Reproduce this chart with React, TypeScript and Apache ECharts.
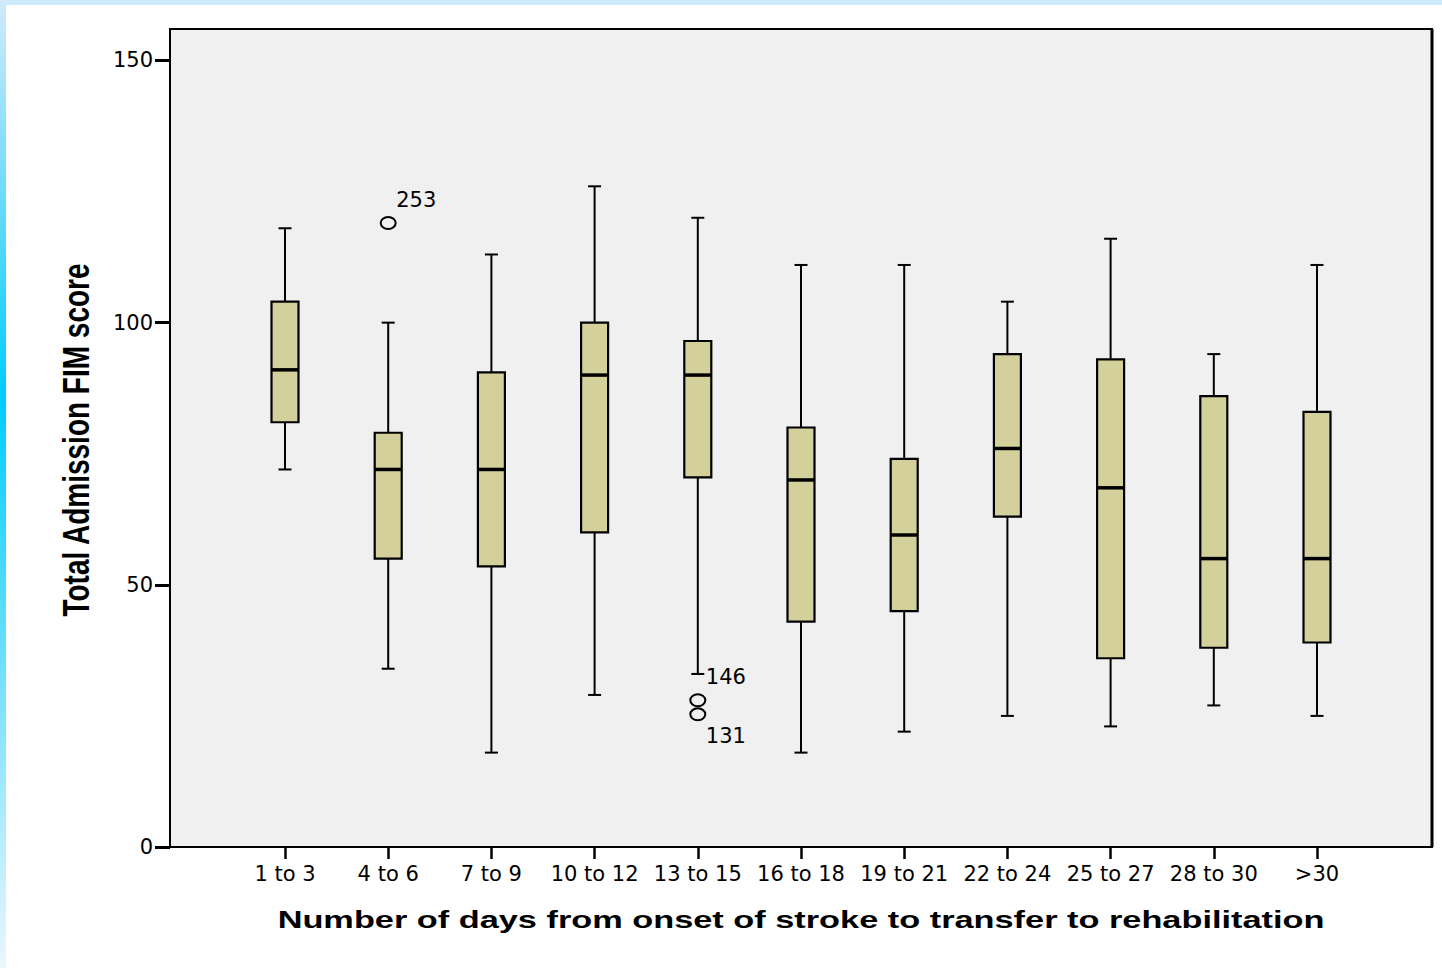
import React, { useEffect, useRef } from "react";
import * as echarts from "echarts";

const categories = ["1 to 3", "4 to 6", "7 to 9", "10 to 12", "13 to 15", "16 to 18", "19 to 21", "22 to 24", "25 to 27", "28 to 30", ">30"];
const whiskerLow = [72, 34, 18, 29, 33, 18, 22, 25, 23, 27, 25];
const quartile1 = [81, 55, 53.5, 60, 70.5, 43, 45, 63, 36, 38, 39];
const median = [91, 72, 72, 90, 90, 70, 59.5, 76, 68.5, 55, 55];
const quartile3 = [104, 79, 90.5, 100, 96.5, 80, 74, 94, 93, 86, 83];
const whiskerHigh = [118, 100, 113, 126, 120, 111, 111, 104, 116, 94, 111];

const outlierCategory = [1, 4, 4];
const outlierValue = [119, 28, 25.3];
const outlierLabel = ["253", "146", "131"];
const outlierLabelSide = ["above", "above", "below"];

const yTicks = [0, 50, 100, 150];
const yMin = 0;
const yMax = 156;

const xTitle = "Number of days from onset of stroke to transfer to rehabilitation";
const yTitle = "Total Admission FIM score";

export default function App() {
  const ref = useRef<HTMLDivElement>(null);
  useEffect(() => {
    if (!ref.current) return;
    const chart = echarts.init(ref.current, null, { renderer: "svg" });
    const boxData = categories.map((_, i) => [i, whiskerLow[i], quartile1[i], median[i], quartile3[i], whiskerHigh[i]]);
    const outData = outlierValue.map((v, i) => [outlierCategory[i], v, i]);
    const tickFont = { fontFamily: "DejaVu Sans", fontSize: 21, color: "#000" };
    chart.setOption({
      animation: false,
      backgroundColor: "#ffffff",
      grid: [
        { left: 170, top: 29, width: 1262, height: 818, show: true, backgroundColor: "#f0f0f0", borderColor: "#000", borderWidth: 2, z: 0 },
        { left: 233.4, width: 1135.2, top: 29, height: 818, show: false },
      ],
      xAxis: [
        { gridIndex: 0, type: "value", min: 0, max: 1, show: false },
        {
          gridIndex: 1,
          type: "category",
          data: categories,
          boundaryGap: true,
          axisLine: { show: false },
          axisTick: { show: true, alignWithLabel: true, length: 12, lineStyle: { color: "#000", width: 2.5 } },
          axisLabel: { ...tickFont, margin: 16, interval: 0 },
          splitLine: { show: false },
        },
      ],
      yAxis: [
        {
          gridIndex: 0,
          type: "value",
          min: yMin,
          max: yMax,
          axisLine: { show: true, lineStyle: { color: "#000", width: 2 } },
          axisTick: { show: true, length: 15, lineStyle: { color: "#000", width: 3 }, customValues: yTicks },
          axisLabel: { ...tickFont, margin: 17, customValues: yTicks },
          splitLine: { show: false },
        },
        { gridIndex: 1, type: "value", min: yMin, max: yMax, show: false },
      ],
      graphic: [
        { type: "rect", shape: { x: 0, y: 0, width: 1442, height: 5 }, style: { fill: "#cde9fc" }, silent: true },
        {
          type: "rect",
          shape: { x: 0, y: 0, width: 6, height: 968 },
          style: {
            fill: new echarts.graphic.LinearGradient(0, 0, 0, 1, [
              { offset: 0, color: "#d2eafb" },
              { offset: 0.41, color: "#00ccff" },
              { offset: 1, color: "#ecf6fe" },
            ]),
          },
          silent: true,
        },
        { type: "line", shape: { x1: 1432, y1: 29, x2: 1432, y2: 847 }, style: { stroke: "#000", lineWidth: 3 }, z: 10, silent: true },
        {
          type: "text",
          x: 801,
          y: 919,
          scaleX: 1.43,
          style: { text: xTitle, font: "bold 24px 'Liberation Sans', Arial, sans-serif", fill: "#000", align: "center", verticalAlign: "middle" },
        },
        {
          type: "text",
          x: 76,
          y: 440,
          rotation: Math.PI / 2,
          scaleY: 1.35,
          style: { text: yTitle, font: "bold 28px 'Liberation Sans', Arial, sans-serif", fill: "#000", align: "center", verticalAlign: "middle" },
        },
      ],
      series: [
        {
          type: "custom",
          xAxisIndex: 1,
          yAxisIndex: 1,
          data: boxData,
          z: 5,
          renderItem: (params: any, api: any) => {
            const idx = api.value(0);
            const x = api.coord([idx, 0])[0];
            const yLo = api.coord([idx, api.value(1)])[1];
            const yQ1 = api.coord([idx, api.value(2)])[1];
            const yMed = api.coord([idx, api.value(3)])[1];
            const yQ3 = api.coord([idx, api.value(4)])[1];
            const yHi = api.coord([idx, api.value(5)])[1];
            const boxW = 27;
            const capW = 13;
            const ls = { stroke: "#000", lineWidth: 2 };
            return {
              type: "group",
              children: [
                { type: "line", shape: { x1: x, y1: yQ3, x2: x, y2: yHi }, style: ls },
                { type: "line", shape: { x1: x - capW / 2, y1: yHi, x2: x + capW / 2, y2: yHi }, style: ls },
                { type: "line", shape: { x1: x, y1: yQ1, x2: x, y2: yLo }, style: ls },
                { type: "line", shape: { x1: x - capW / 2, y1: yLo, x2: x + capW / 2, y2: yLo }, style: ls },
                { type: "rect", shape: { x: x - boxW / 2, y: yQ3, width: boxW, height: yQ1 - yQ3 }, style: { fill: "#d4d09b", stroke: "#000", lineWidth: 2.2 } },
                { type: "line", shape: { x1: x - boxW / 2, y1: yMed, x2: x + boxW / 2, y2: yMed }, style: { stroke: "#000", lineWidth: 3.5 } },
              ],
            };
          },
        },
        {
          type: "custom",
          xAxisIndex: 1,
          yAxisIndex: 1,
          data: outData,
          z: 6,
          renderItem: (params: any, api: any) => {
            const pt = api.coord([api.value(0), api.value(1)]);
            const k = api.value(2);
            const dy = outlierLabelSide[k] === "above" ? -23 : 22;
            return {
              type: "group",
              children: [
                { type: "ellipse", shape: { cx: pt[0], cy: pt[1], rx: 7.5, ry: 6 }, style: { fill: "none", stroke: "#000", lineWidth: 2 } },
                {
                  type: "text",
                  x: pt[0] + 8,
                  y: pt[1] + dy,
                  style: { text: outlierLabel[k], font: "21px 'DejaVu Sans', sans-serif", fill: "#000", align: "left", verticalAlign: "middle" },
                },
              ],
            };
          },
        },
      ],
    });
    return () => chart.dispose();
  }, []);
  return <div ref={ref} style={{ position: "absolute", left: 0, top: 0, width: 1442, height: 968 }} />;
}
